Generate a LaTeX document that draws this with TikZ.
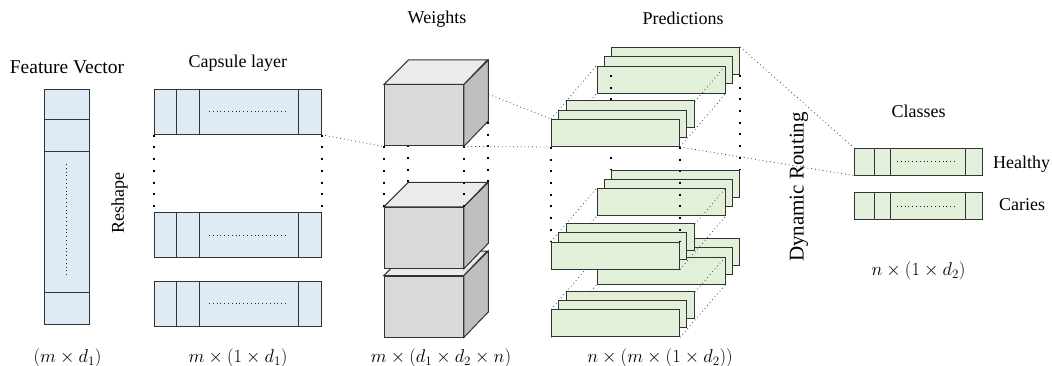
\RequirePackage{fix-cm}
\documentclass[tikz,border=0pt]{standalone}
\usepackage{fontspec}
\setmainfont{Liberation Serif}
\usetikzlibrary{positioning}
\definecolor{capblue}{HTML}{DEEBF7}
\definecolor{predgreen}{HTML}{E2F0D9}
\definecolor{wfront}{HTML}{D9D9D9}
\definecolor{wtop}{HTML}{EBEBEB}
\definecolor{wside}{HTML}{BFBFBF}
\pgfdeclarelayer{back}
\pgfdeclarelayer{lines}
\pgfdeclarelayer{front}
\pgfsetlayers{back,lines,main,front}
\tikzset{
    boxline/.style = {draw = black!80, line width = 1pt},
    finedots/.style = {draw = black!85, line width = 0.8pt, dash pattern = on 0.8pt off 3pt},
    thindots/.style = {draw = black!75, line width = 0.8pt, dash pattern = on 0.8pt off 3pt},
    bigdots/.style = {draw = black, line width = 2pt, dash pattern = on 2pt off 9.7pt},
    lbl/.style = {inner sep = 0pt, font = \fontsize{18}{21}\selectfont},
    mathlbl/.style = {inner sep = 0pt, font = \fontsize{18.5}{22}\selectfont},
    vecbox/.style = {
        boxline, fill = capblue, inner sep = 0pt,
        minimum width = 45.7pt, minimum height = 235pt,
        path picture = {
            \draw[boxline] ([yshift=-30.7pt]path picture bounding box.north west) -- ([yshift=-30.7pt]path picture bounding box.north east)
                ([yshift=-62.7pt]path picture bounding box.north west) -- ([yshift=-62.7pt]path picture bounding box.north east)
                ([yshift=31.6pt]path picture bounding box.south west) -- ([yshift=31.6pt]path picture bounding box.south east);
            \draw[finedots] ([yshift=-74.7pt]path picture bounding box.north) -- ([yshift=48.3pt]path picture bounding box.south);
        }
    },
    segbox/.style n args = {5}{
        boxline, inner sep = 0pt,
        path picture = {
            \draw[boxline] ([xshift=#1]path picture bounding box.north west) -- ([xshift=#1]path picture bounding box.south west)
                ([xshift=#2]path picture bounding box.north west) -- ([xshift=#2]path picture bounding box.south west)
                ([xshift=-#3]path picture bounding box.north east) -- ([xshift=-#3]path picture bounding box.south east);
            \draw[finedots] ([xshift=#4]path picture bounding box.west) -- ([xshift=-#5]path picture bounding box.east);
        }
    },
    capbox/.style = {segbox = {22pt}{44.6pt}{22.7pt}{54.3pt}{34pt}, fill = capblue,
        minimum width = 166.3pt, minimum height = 45pt},
    clsbox/.style = {segbox = {19.7pt}{36.4pt}{17.3pt}{42.4pt}{25.6pt}, fill = predgreen,
        minimum width = 128pt, minimum height = 26.7pt},
    predbox/.style = {boxline, fill = predgreen, inner sep = 0pt,
        minimum width = 128pt, minimum height = 27pt},
    cubeface/.style = {boxline, fill = wfront, inner sep = 0pt,
        minimum width = 79pt, minimum height = 61pt}
}
% three stacked prediction plates, front one named #1-1
\newcommand{\predstack}[2]{%
    \node[predbox, xshift=14.7pt, yshift=18.6pt] (#1-3) at (#2) {};
    \node[predbox, xshift=7.35pt, yshift=9.3pt] (#1-2) at (#2) {};
    \node[predbox] (#1-1) at (#2) {};
}
% weight cube, front face named #1
\newcommand{\cubebox}[2]{%
    \node[cubeface] (#1) at (#2) {};
    \filldraw[boxline, fill=wtop] (#1.north west) -- ++(24.5pt,24.5pt) -- ++(79pt,0pt) -- (#1.north east) -- cycle;
    \filldraw[boxline, fill=wside] (#1.north east) -- ++(24.5pt,24.5pt) -- ++(0pt,-61pt) -- (#1.south east) -- cycle;
}
\begin{document}
\begin{tikzpicture}[x=1pt, y=-1pt]
    \useasboundingbox (0,0) rectangle (1052,366);

    % feature vector and capsule layer
    \node[vecbox] (fv) at (66.85,206.8) {};
    \node[capbox] (cap1) at (237.85,111.8) {};
    \node[capbox, below=77.4pt of cap1] (cap2) {};
    \node[capbox, below=22.3pt of cap2] (cap3) {};

    % weights
    \cubebox{w3}{423.8,306.5}
    \cubebox{w2}{423.8,237.8}
    \cubebox{w1}{423.8,115.5}

    % predictions
    \predstack{pB}{615.5,133}
    \predstack{pD}{615.5,255.5}
    \predstack{pF}{615.5,323.4}
    \begin{pgfonlayer}{back}
        \predstack{pA}{661,79.6}
        \predstack{pC}{661,202.4}
        \predstack{pE}{661,270.7}
    \end{pgfonlayer}

    % classes
    \node[clsbox] (healthy) at (918.5,161.7) {};
    \node[clsbox, below=16.7pt of healthy] (caries) {};

    % titles
    \node[lbl, anchor=base, font=\fontsize{19.5}{23}\selectfont] (fvtitle) at (67,73.3) {Feature Vector};
    \node[lbl, anchor=base] (captitle) at (237.8,67.3) {Capsule layer};
    \node[lbl, anchor=base] (wtitle) at (437,24) {Weights};
    \node[lbl, anchor=base] (predtitle) at (683,25) {Predictions};
    \node[lbl, anchor=base] (clstitle) at (918.5,117.7) {Classes};
    \node[lbl, anchor=base] (healthytxt) at (1021.5,168.3) {Healthy};
    \node[lbl, anchor=base] (cariestxt) at (1022,211) {Caries};
    \node[lbl, rotate=90] (reshape) at (119.5,203) {Reshape};
    \node[lbl, rotate=90, font=\fontsize{21}{25}\selectfont] (routing) at (799,187) {Dynamic Routing};

    % dimensions
    \node[mathlbl] (fvdim) at (67.5,358) {$(m\times d_1)$};
    \node[mathlbl] (capdim) at (238,358) {$m\times(1\times d_1)$};
    \node[mathlbl] (wdim) at (441,358) {$m\times(d_1\times d_2\times n)$};
    \node[mathlbl] (preddim) at (660,358) {$n\times(m\times(1\times d_2))$};
    \node[mathlbl] (clsdim) at (918.5,271) {$n\times(1\times d_2)$};

    % hidden connectors
    \begin{pgfonlayer}{lines}
        \foreach \a/\b in {pA/pB, pC/pD, pE/pF}
            \foreach \c in {north west, north east, south west, south east}
                \draw[thindots] (\b-1.\c) -- (\a-1.\c);
        \draw[bigdots] (pA-3.south west) -- (pC-3.north west)
            (pA-3.south east) -- (pC-3.north east);
        \draw[thindots] (w1.north east) -- (pB-1.north west);
        \draw[bigdots] ([shift={(24.5pt,24.5pt)}]w1.south west) -- ([shift={(24.5pt,24.5pt)}]w2.north west);
    \end{pgfonlayer}

    % visible connectors
    \begin{pgfonlayer}{front}
        \draw[bigdots] (cap1.south west) -- (cap2.north west)
            (cap1.south east) -- (cap2.north east);
        \draw[bigdots] (w1.south west) -- (w2.north west)
            (w1.south east) -- (w2.north east);
        \draw[bigdots] ([shift={(24.5pt,24.5pt)}]w1.south east) -- ([shift={(24.5pt,24.5pt)}]w2.north east);
        \draw[bigdots] (pB-1.south west) -- (pD-1.north west)
            (pB-1.south east) -- (pD-1.north east);
        \draw[thindots] (cap1.south east) -- (w1.south west);
        \draw[thindots] (w1.south east) -- (pB-1.south west);
        \draw[thindots] (pA-3.north east) -- (healthy.north west);
        \draw[thindots] (pB-1.south east) -- (healthy.south west);
    \end{pgfonlayer}
\end{tikzpicture}
\end{document}
